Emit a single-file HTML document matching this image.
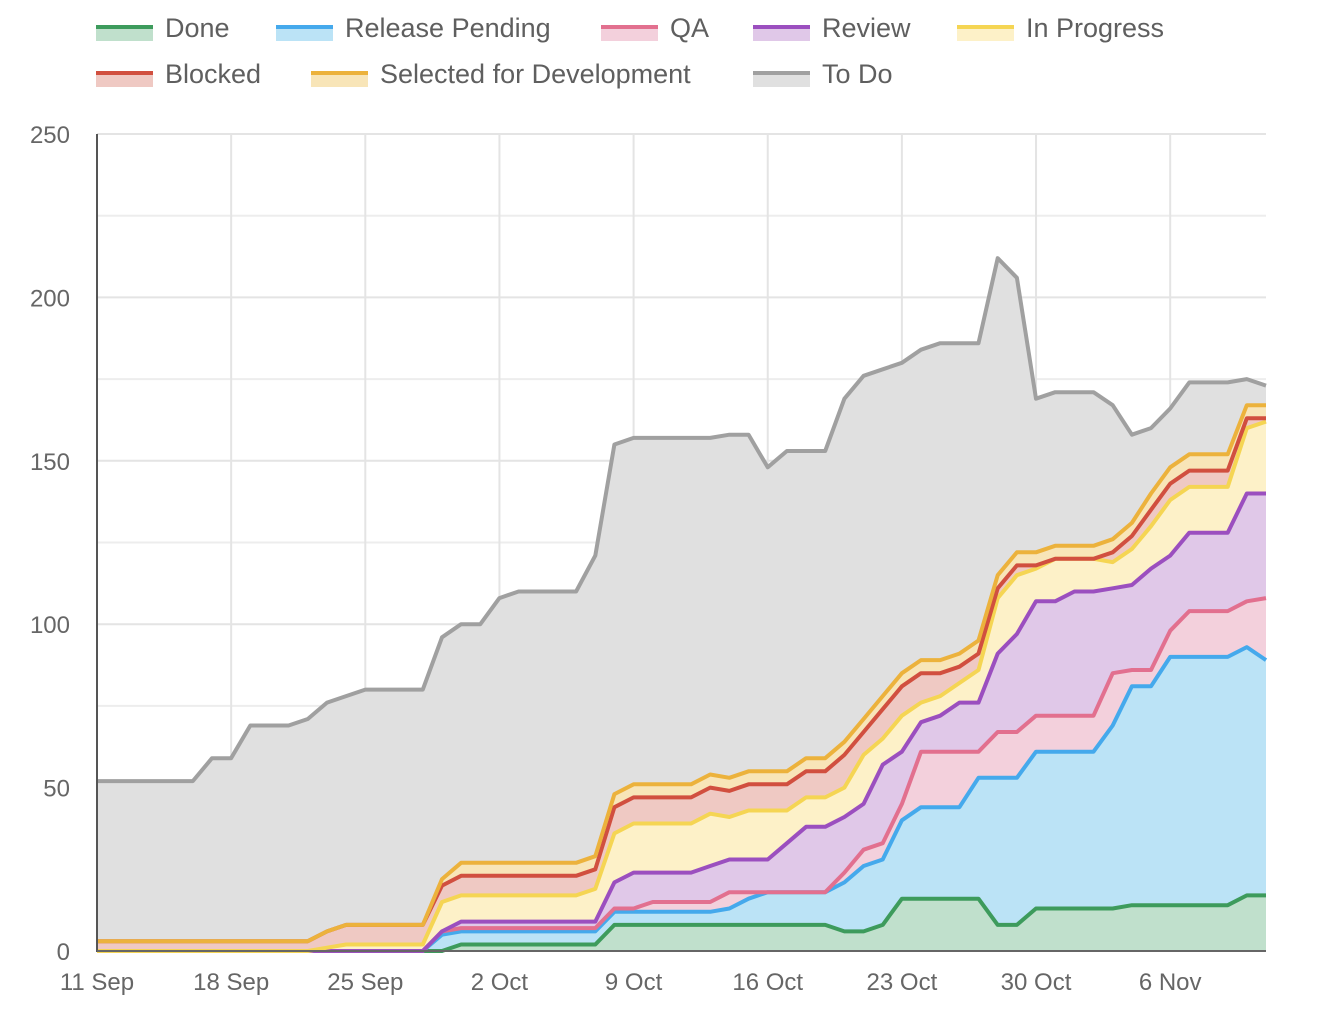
<!DOCTYPE html>
<html><head><meta charset="utf-8"><style>
html,body{margin:0;padding:0;background:#fff;}
svg{display:block;font-family:"Liberation Sans",sans-serif;}
</style></head><body>
<svg id="chart" width="1336" height="1018" viewBox="0 0 1336 1018" xmlns="http://www.w3.org/2000/svg">
<g id="grid"></g>
<g id="areas"></g>
<g id="lines"></g>
<g id="axes"></g>
<g id="legend"></g>
</svg>
<script>
const seriesNames = ["Done","Release Pending","QA","Review","In Progress","Blocked","Selected for Development","To Do"];
const xTickLabels = ["11 Sep","18 Sep","25 Sep","2 Oct","9 Oct","16 Oct","23 Oct","30 Oct","6 Nov"];
const yTicks = [0,50,100,150,200,250];
// cumulative (stacked) values per day, 11 Sep .. 10 Nov
const done = [0,0,0,0,0,0,0,0,0,0,0,0,0,0,0,0,0,0,0,2,2,2,2,2,2,2,2,8,8,8,8,8,8,8,8,8,8,8,8,6,6,8,16,16,16,16,16,8,8,13,13,13,13,13,14,14,14,14,14,14,17,17];
const releasePending = [0,0,0,0,0,0,0,0,0,0,0,0,0,0,0,0,0,0,5,6,6,6,6,6,6,6,6,12,12,12,12,12,12,13,16,18,18,18,18,21,26,28,40,44,44,44,53,53,53,61,61,61,61,69,81,81,90,90,90,90,93,89];
const qa = [0,0,0,0,0,0,0,0,0,0,0,0,0,0,0,0,0,0,6,7,7,7,7,7,7,7,7,13,13,15,15,15,15,18,18,18,18,18,18,24,31,33,45,61,61,61,61,67,67,72,72,72,72,85,86,86,98,104,104,104,107,108];
const review = [0,0,0,0,0,0,0,0,0,0,0,0,0,0,0,0,0,0,6,9,9,9,9,9,9,9,9,21,24,24,24,24,26,28,28,28,33,38,38,41,45,57,61,70,72,76,76,91,97,107,107,110,110,111,112,117,121,128,128,128,140,140];
const inProgress = [0,0,0,0,0,0,0,0,0,0,0,0,1,2,2,2,2,2,15,17,17,17,17,17,17,17,19,36,39,39,39,39,42,41,43,43,43,47,47,50,60,65,72,76,78,82,86,108,115,117,120,120,120,119,123,130,138,142,142,142,160,162];
const blocked = [3,3,3,3,3,3,3,3,3,3,3,3,6,8,8,8,8,8,20,23,23,23,23,23,23,23,25,44,47,47,47,47,50,49,51,51,51,55,55,60,67,74,81,85,85,87,91,111,118,118,120,120,120,122,127,135,143,147,147,147,163,163];
const selected = [3,3,3,3,3,3,3,3,3,3,3,3,6,8,8,8,8,8,22,27,27,27,27,27,27,27,29,48,51,51,51,51,54,53,55,55,55,59,59,64,71,78,85,89,89,91,95,115,122,122,124,124,124,126,131,140,148,152,152,152,167,167];
const toDo = [52,52,52,52,52,52,59,59,69,69,69,71,76,78,80,80,80,80,96,100,100,108,110,110,110,110,121,155,157,157,157,157,157,158,158,148,153,153,153,169,176,178,180,184,186,186,186,212,206,169,171,171,171,167,158,160,166,174,174,174,175,173];

const allSeries = [done,releasePending,qa,review,inProgress,blocked,selected,toDo];
const lineColors = ["#3d9b5c","#45a9ec","#e2708f","#9b4fbf","#f5d553","#d14f3f","#ecb23c","#a0a0a0"];
const fillColors = ["#c0e0cc","#bbe3f6","#f3d0dc","#e0c8e8","#fdf1c8","#efc9c3","#f8e5b8","#e0e0e0"];
const keys = ["done","release-pending","qa","review","in-progress","blocked","selected-for-development","to-do"];

const X0=97, X1=1266, Y0=951, Y250=134;
const nDays = toDo.length;
const xs = d => X0 + (X1-X0)*d/(nDays-1);
const ys = v => Y0 - (Y0-Y250)*v/250;
const NS="http://www.w3.org/2000/svg";
function mk(tag, attrs, parent){const e=document.createElementNS(NS,tag);for(const k in attrs)e.setAttribute(k,attrs[k]);parent.appendChild(e);return e;}

const grid=document.getElementById('grid');
for(let v=0; v<=250; v+=25){
  const l=mk('line',{x1:X0,x2:X1,y1:ys(v),y2:ys(v),stroke:v%50===0?'#e4e4e4':'#ededed','stroke-width':2},grid);
  
  
}
xTickLabels.forEach((t,i)=>{
  const x=xs(i*7);
  const l=mk('line',{x1:x,x2:x,y1:Y250,y2:Y0,stroke:'#e4e4e4','stroke-width':2},grid);
  
  
});

const areas=document.getElementById('areas');
const lines=document.getElementById('lines');
for(let s=allSeries.length-1;s>=0;s--){
  const arr=allSeries[s];
  let d='M'+xs(0)+','+ys(0);
  arr.forEach((v,i)=>{d+=' L'+xs(i).toFixed(1)+','+ys(v).toFixed(1);});
  d+=' L'+xs(nDays-1)+','+ys(0)+' Z';
  const p=mk('path',{d:d,fill:fillColors[s]},areas);
  
  
}
for(let s=0;s<allSeries.length;s++){
  const arr=allSeries[s];
  const pts=arr.map((v,i)=>xs(i).toFixed(1)+','+ys(v).toFixed(1)).join(' ');
  const p=mk('polyline',{points:pts,fill:'none',stroke:lineColors[s],'stroke-width':4,'stroke-linejoin':'round'},lines);
  
  
}

const axes=document.getElementById('axes');
const ya=mk('line',{x1:X0,x2:X0,y1:Y250,y2:Y0+1,stroke:'#555','stroke-width':2},axes);


const xa=mk('line',{x1:X0,x2:X1,y1:Y0,y2:Y0,stroke:'#666','stroke-width':2},axes);


yTicks.forEach(v=>{
  const t=mk('text',{x:70,y:ys(v)+9,'text-anchor':'end','font-size':24,fill:'#666'},axes);
  t.textContent=v;
  
  
});
xTickLabels.forEach((lab,i)=>{
  const t=mk('text',{x:xs(i*7),y:990,'text-anchor':'middle','font-size':24,fill:'#666'},axes);
  t.textContent=lab;
  
  
});

const legendPos=[[96,0],[276,0],[601,0],[753,0],[957,0],[96,1],[311,1],[753,1]];
const legend=document.getElementById('legend');
legendPos.forEach((p,s)=>{
  const g=mk('g',{},legend);
  
  
  const y=25+p[1]*46;
  mk('rect',{x:p[0],y:y+4,width:57,height:12,fill:fillColors[s]},g);
  mk('rect',{x:p[0],y:y,width:57,height:4,fill:lineColors[s]},g);
  const t=mk('text',{x:p[0]+69,y:y+12,'font-size':27,fill:'#5f5f5f'},g);
  t.textContent=seriesNames[s];
});
</script>
</body></html>
